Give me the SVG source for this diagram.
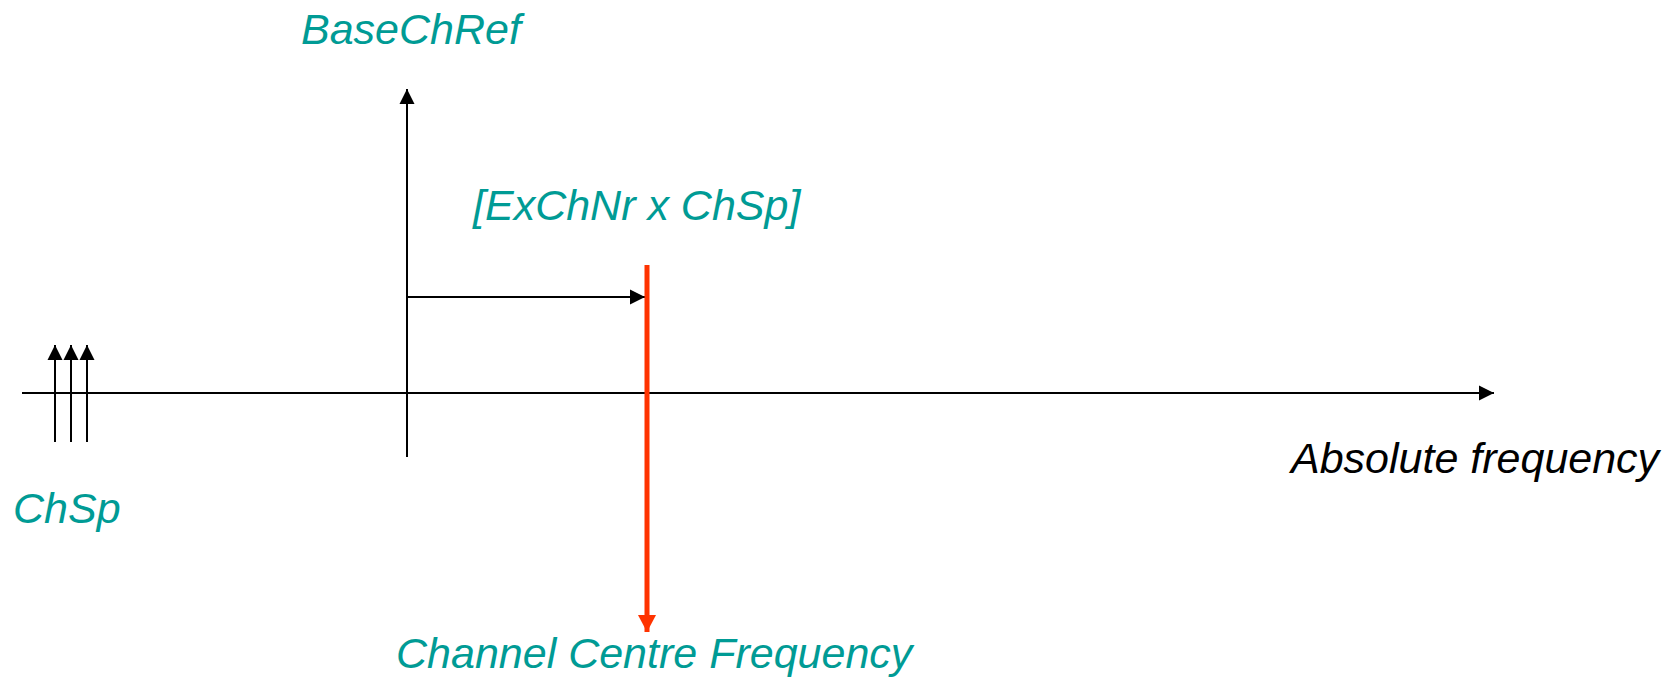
<svg xmlns="http://www.w3.org/2000/svg" width="1679" height="677" viewBox="0 0 1679 677">
  <style>
    .lbl { font-family: "Liberation Sans", Arial, sans-serif; font-style: italic; font-size: 43px; }
    .teal { fill: #009B95; }
    .blk { fill: #000000; }
    .ln { stroke: #000; stroke-width: 2; fill: none; }
    .red { stroke: #FF3300; stroke-width: 5; fill: none; }
  </style>
  <defs>
    <marker id="ah" markerUnits="userSpaceOnUse" markerWidth="16" markerHeight="16" refX="15" refY="8" orient="auto" viewBox="0 0 16 16">
      <path d="M0,0.5 L15,8 L0,15.5 z" fill="#000"/>
    </marker>
    <marker id="ahr" markerUnits="userSpaceOnUse" markerWidth="18" markerHeight="18" refX="17" refY="9" orient="auto" viewBox="0 0 18 18">
      <path d="M0,0 L17,9 L0,18 z" fill="#FF3300"/>
    </marker>
  </defs>
  <rect width="1679" height="677" fill="#fff"/>
  <g id="connectors">
    <line class="ln" x1="22" y1="393" x2="1494" y2="393" marker-end="url(#ah)"/>
    <line class="ln" x1="407" y1="457" x2="407" y2="89" marker-end="url(#ah)"/>
    <line class="ln" x1="407" y1="297" x2="645" y2="297" marker-end="url(#ah)"/>
    <line class="ln" x1="55" y1="442" x2="55" y2="345" marker-end="url(#ah)"/>
    <line class="ln" x1="71" y1="442" x2="71" y2="345" marker-end="url(#ah)"/>
    <line class="ln" x1="87" y1="442" x2="87" y2="345" marker-end="url(#ah)"/>
    <line class="red" x1="647" y1="265" x2="647" y2="632" marker-end="url(#ahr)"/>
  </g>
  <g id="baseChRef"><text class="lbl teal" x="301" y="44">BaseChRef</text></g>
  <g id="exChNr"><text class="lbl teal" x="473" y="220">[ExChNr x ChSp]</text></g>
  <g id="chSp"><text class="lbl teal" x="13" y="523">ChSp</text></g>
  <g id="absFreq"><text class="lbl blk" x="1291" y="473">Absolute frequency</text></g>
  <g id="centreFreq"><text class="lbl teal" x="396" y="668">Channel Centre Frequency</text></g>
</svg>
